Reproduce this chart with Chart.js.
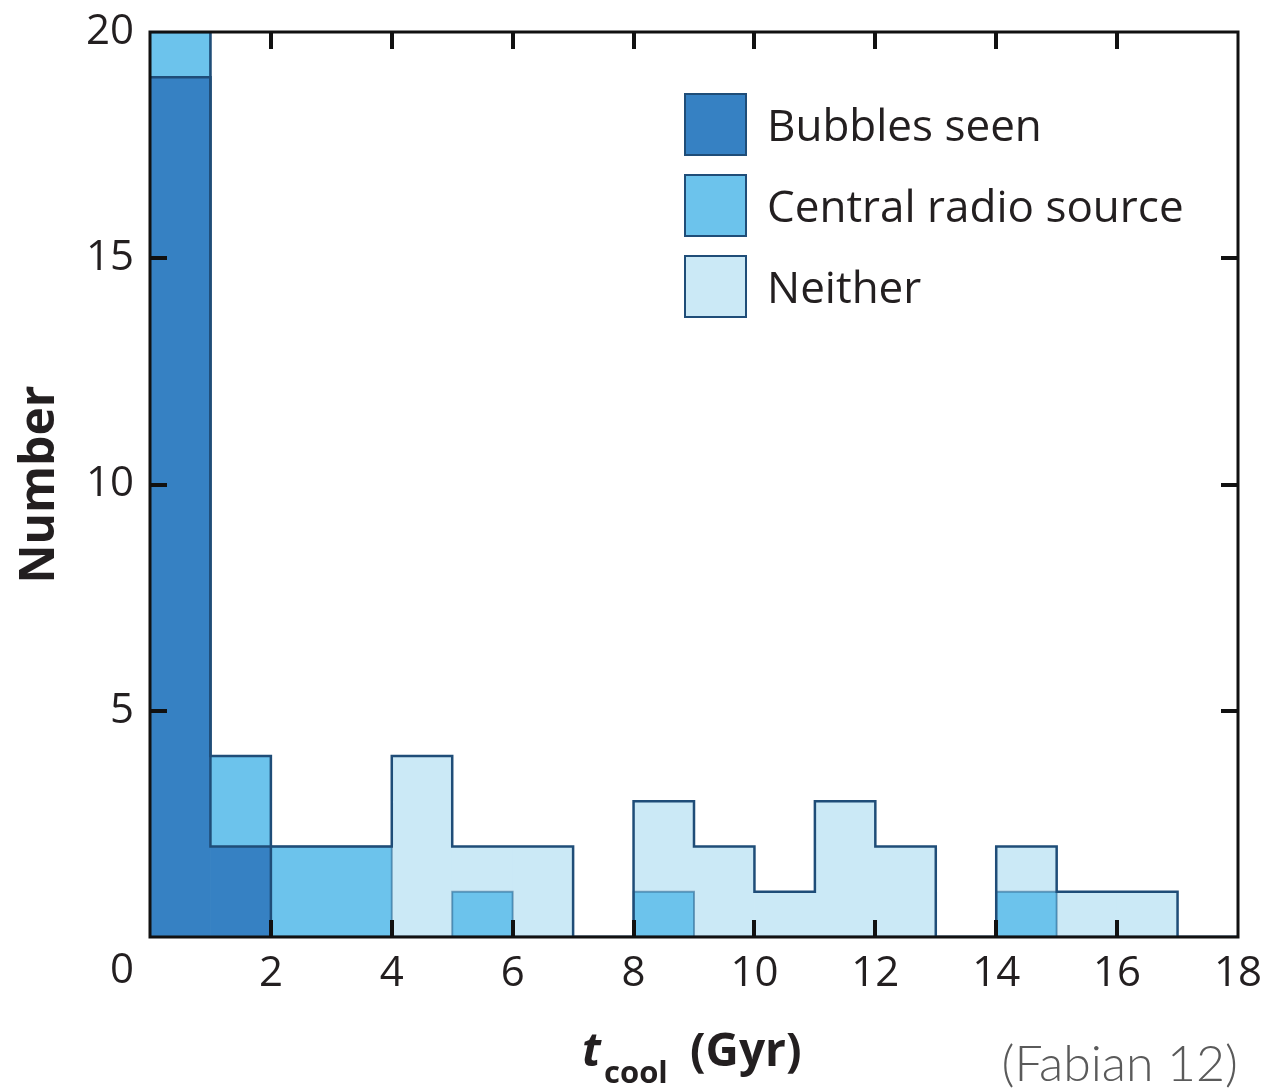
<!DOCTYPE html>
<html>
<head>
<meta charset="utf-8">
<title>Cooling time histogram</title>
<script src="https://cdn.jsdelivr.net/npm/chart.js@4.4.1/dist/chart.umd.min.js"></script>
<style>
  html, body { margin: 0; padding: 0; background: #fff; }
  canvas { display: block; }
</style>
</head>
<body>
<canvas id="tcoolChart" width="1269" height="1091"></canvas>
<script>
// histogram bins, 1 Gyr wide (left edges)
const binEdges = [0, 1, 2, 3, 4, 5, 6, 7, 8, 9, 10, 11, 12, 13, 14, 15, 16, 17];
const bubblesSeen = [19, 2, 0, 0, 0, 0, 0, 0, 0, 0, 0, 0, 0, 0, 0, 0, 0, 0];
const centralRadio = [1, 2, 2, 2, 0, 1, 0, 0, 1, 0, 0, 0, 0, 0, 1, 0, 0, 0];
const neither = [0, 0, 0, 0, 4, 1, 2, 0, 2, 2, 1, 3, 2, 0, 1, 1, 1, 0];
const xTicks = [0, 2, 4, 6, 8, 10, 12, 14, 16, 18];
const yTicks = [0, 5, 10, 15, 20];
const seriesNames = ["Bubbles seen", "Central radio source", "Neither"];

const colors = ["#3681c3", "#6cc3ec", "#cbe9f6"];
const edge = "#1f4d78";
const ink = "#231f20";

// bars sit at bin centres on a linear axis
function barPoints(arr) {
  return binEdges.map((e, i) => ({ x: e + 0.5, y: arr[i] }));
}
// step outline points at bin edges, last value carried to the end
function edgePoints(arr) {
  const pts = binEdges.map((e, i) => ({ x: e, y: arr[i] }));
  pts.push({ x: 18, y: arr[arr.length - 1] });
  return pts;
}

const barSet = (label, arr, c) => ({
  type: "bar",
  label: label,
  data: barPoints(arr),
  backgroundColor: c,
  borderWidth: 0,
  grouped: false,
  barPercentage: 1,
  categoryPercentage: 1,
  order: 5,
});
// outlines share one stack, so each follows the top of its layer
const edgeSet = (arr, col, w, ord) => ({
  type: "line",
  data: edgePoints(arr),
  stack: "edges",
  stepped: true,
  borderColor: col,
  borderWidth: w,
  pointRadius: 0,
  fill: false,
  order: ord,
});

const frame = {
  id: "frame",
  afterDatasetsDraw(chart) {
    const { ctx, chartArea: a, scales } = chart;
    const x = scales.x, y = scales.y;
    ctx.save();
    ctx.strokeStyle = "#111";
    ctx.lineWidth = 4;
    ctx.beginPath();
    xTicks.forEach((v) => {
      if (v === 0 || v === 18) return;
      const px = Math.round(x.getPixelForValue(v));
      ctx.moveTo(px, a.bottom); ctx.lineTo(px, a.bottom - 17);
      ctx.moveTo(px, a.top); ctx.lineTo(px, a.top + 17);
    });
    yTicks.forEach((v) => {
      if (v === 0 || v === 20) return;
      const py = Math.round(y.getPixelForValue(v));
      ctx.moveTo(a.left, py); ctx.lineTo(a.left + 17, py);
      ctx.moveTo(a.right, py); ctx.lineTo(a.right - 17, py);
    });
    ctx.stroke();
    ctx.lineWidth = 3;
    ctx.strokeRect(a.left, a.top, a.right - a.left, a.bottom - a.top);
    ctx.restore();
  },
  afterDraw(chart) {
    const { ctx, chartArea: a } = chart;
    ctx.save();
    // shared origin label, set off to the left of the corner
    ctx.fillStyle = ink;
    ctx.font = "42px 'Open Sans'";
    ctx.textAlign = "center";
    ctx.textBaseline = "middle";
    ctx.fillText("0", a.left - 28, 971);
    // legend inside the plot, top right
    ctx.textAlign = "left";
    ctx.font = "44px 'Open Sans'";
    seriesNames.forEach((name, i) => {
      const top = 94 + i * 81;
      ctx.fillStyle = colors[i];
      ctx.fillRect(685, top, 61, 61);
      ctx.strokeStyle = edge;
      ctx.lineWidth = 2;
      ctx.strokeRect(685, top, 61, 61);
      ctx.fillStyle = ink;
      ctx.fillText(name, 767, top + 34);
    });
    // x axis title with subscript
    ctx.textBaseline = "alphabetic";
    ctx.fillStyle = ink;
    ctx.font = "italic bold 46px 'Open Sans'";
    ctx.fillText("t", 582, 1066);
    ctx.font = "bold 31px 'Open Sans'";
    ctx.fillText("cool", 604, 1083);
    ctx.font = "bold 46px 'Open Sans'";
    ctx.fillText("(Gyr)", 690, 1066);
    // citation
    ctx.fillStyle = "#5a5a5a";
    ctx.font = "300 50px Lato";
    ctx.textAlign = "right";
    ctx.fillText("(Fabian 12)", 1238, 1081);
    ctx.restore();
  },
};

new Chart(document.getElementById("tcoolChart"), {
  data: {
    datasets: [
      barSet(seriesNames[0], bubblesSeen, colors[0]),
      barSet(seriesNames[1], centralRadio, colors[1]),
      barSet(seriesNames[2], neither, colors[2]),
      edgeSet(bubblesSeen, edge, 2.5, 0),
      edgeSet(centralRadio, "rgba(31,77,120,0.45)", 2, 1),
      edgeSet(neither, edge, 2.5, 2),
    ],
  },
  options: {
    responsive: false,
    animation: false,
    layout: { padding: { top: 32, right: 31, left: 0, bottom: 0 } },
    plugins: {
      legend: { display: false },
      tooltip: { enabled: false },
    },
    scales: {
      x: {
        type: "linear",
        min: 0,
        max: 18,
        offset: false,
        grid: { display: false, drawTicks: false, offset: false },
        border: { display: false },
        afterBuildTicks: (s) => { s.ticks = xTicks.map((v) => ({ value: v })); },
        afterFit: (s) => { s.height = 154; s.paddingLeft = 0; s.paddingRight = 0; },
        ticks: {
          padding: 12,
          color: ink,
          font: { family: "'Open Sans'", size: 42 },
          callback: (v) => (v === 0 ? "" : v),
        },
      },
      y: {
        min: 0,
        max: 20,
        stacked: true,
        grid: { display: false, drawTicks: false },
        border: { display: false },
        afterBuildTicks: (s) => { s.ticks = yTicks.map((v) => ({ value: v })); },
        afterFit: (s) => { s.width = 150; s.paddingTop = 0; s.paddingBottom = 0; },
        ticks: {
          padding: 16,
          color: ink,
          font: { family: "'Open Sans'", size: 42 },
          callback: (v) => (v === 0 ? "" : v),
        },
        title: {
          display: true,
          text: "Number",
          color: ink,
          padding: { top: 12 },
          font: { family: "'Open Sans'", size: 48, weight: "bold" },
        },
      },
    },
  },
  plugins: [frame],
});
</script>
</body>
</html>
